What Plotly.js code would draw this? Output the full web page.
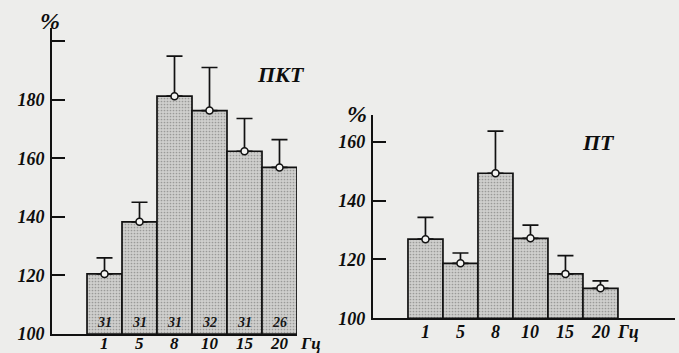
<!DOCTYPE html>
<html>
<head>
<meta charset="utf-8">
<script src="https://cdn.plot.ly/plotly-3.0.1.min.js"></script>
<style>
  html, body { margin: 0; padding: 0; background: #ededeb; }
  #chart { width: 679px; height: 353px; }
</style>
</head>
<body>
<div id="chart"></div>
<script>
// ---- Data ----
const freqs = ['1', '5', '8', '10', '15', '20'];

// ПКТ (left panel)
const pktMean  = [120.5, 138.3, 181.2, 176.3, 162.4, 156.9];
const pktUpper = [126.0, 145.0, 194.9, 191.0, 173.6, 166.4];
const pktN     = ['31', '31', '31', '32', '31', '26'];

// ПТ (right panel)
const ptMean  = [126.9, 118.7, 149.3, 127.2, 115.1, 110.2];
const ptUpper = [134.3, 122.2, 163.6, 131.7, 121.3, 112.7];

const leftTicks  = [100, 120, 140, 160, 180, 200];
const leftLabels = ['100', '120', '140', '160', '180', ''];
const rightTicks  = [100, 120, 140, 160];
const rightLabels = ['100', '120', '140', '160'];

const unitLabel = 'Гц';
const pctLabel = '%';

// ---- Styles ----
const serif = 'Liberation Serif, Times New Roman, serif';
function f(size, color) {
  return { family: serif, size: size, color: color || '#0d0d0d', weight: 'bold', style: 'italic' };
}

function barTrace(y, xa, ya) {
  return {
    type: 'bar', x: freqs.map((_, i) => i), y: y.map(v => v - 100), base: 100,
    xaxis: xa, yaxis: ya, width: 1,
    marker: {
      color: '#c6c6c4',
      line: { color: '#111', width: 1.7 },
      pattern: { shape: '.', fgcolor: '#999997', bgcolor: '#cfcfcd', size: 3, solidity: 0.25 }
    },
    hoverinfo: 'skip', showlegend: false
  };
}
function meanTrace(y, up, xa, ya) {
  return {
    type: 'scatter', mode: 'markers', x: freqs.map((_, i) => i), y: y, xaxis: xa, yaxis: ya,
    marker: { symbol: 'circle', size: 7, color: '#f4f4f2', line: { color: '#111', width: 1.5 } },
    error_y: {
      type: 'data', symmetric: false,
      array: up.map((u, i) => u - y[i]),
      arrayminus: y.map(() => 0),
      color: '#111', thickness: 1.7, width: 8
    },
    hoverinfo: 'skip', showlegend: false, cliponaxis: false
  };
}

const data = [
  barTrace(pktMean, 'x', 'y'),
  meanTrace(pktMean, pktUpper, 'x', 'y'),
  barTrace(ptMean, 'x2', 'y2'),
  meanTrace(ptMean, ptUpper, 'x2', 'y2')
];

const annotations = [];
// sample sizes inside left bars
pktN.forEach((n, i) => annotations.push({
  x: i, y: 104.1, xref: 'x', yref: 'y', text: n, showarrow: false, font: f(14, '#151515')
}));
// x tick labels (frequencies)
freqs.forEach((t, i) => {
  annotations.push({ x: i, y: 0.0283, xref: 'x', yref: 'paper', yanchor: 'middle',
    text: t, showarrow: false, font: f(17) });
  annotations.push({ x: i, y: 0.0595, xref: 'x2', yref: 'paper', yanchor: 'middle',
    text: t, showarrow: false, font: f(18) });
});
annotations.push(
  { x: 0.458, y: 0.0283, xref: 'paper', yref: 'paper', yanchor: 'middle', text: unitLabel, showarrow: false, font: f(17) },
  { x: 0.944, y: 0.0595, xref: 'paper', yref: 'paper', yanchor: 'middle', text: unitLabel, showarrow: false, font: f(18) },
  { x: 0.414, y: 0.788, xref: 'paper', yref: 'paper', yanchor: 'middle', text: 'ПКТ', showarrow: false, font: f(22) },
  { x: 0.909, y: 0.595, xref: 'paper', yref: 'paper', yanchor: 'middle', text: 'ПТ', showarrow: false, font: f(22) },
  { x: 0.056, y: 0.94, xref: 'paper', yref: 'paper', yanchor: 'middle', text: pctLabel, showarrow: false, font: f(24) },
  { x: 0.526, y: 0.677, xref: 'paper', yref: 'paper', yanchor: 'middle', text: pctLabel, showarrow: false, font: f(24) }
);

const xCommon = {
  type: 'linear', showline: true, linecolor: '#111', linewidth: 2,
  ticks: '', showticklabels: false, showgrid: false, zeroline: false, fixedrange: true
};
const yCommon = {
  showline: true, linecolor: '#111', linewidth: 2, ticks: 'inside', ticklen: 13,
  tickwidth: 2, tickcolor: '#111', showgrid: false, zeroline: false,
  tickfont: f(18), fixedrange: true, tickmode: 'array', ticklabelstandoff: 2
};

const layout = {
  width: 679, height: 353,
  margin: { l: 0, r: 0, t: 0, b: 0 },
  paper_bgcolor: '#ededeb', plot_bgcolor: 'rgba(0,0,0,0)',
  bargap: 0, showlegend: false,
  xaxis: Object.assign({}, xCommon, { domain: [0.0766, 0.4374], range: [-1.5, 5.5], anchor: 'y' }),
  yaxis: Object.assign({}, yCommon, { domain: [0.0538, 0.9207], range: [100, 204.5], anchor: 'x',
    tickvals: leftTicks, ticktext: leftLabels }),
  xaxis2: Object.assign({}, xCommon, { domain: [0.5493, 0.9941], range: [-1.5, 7.13], anchor: 'y2' }),
  yaxis2: Object.assign({}, yCommon, { domain: [0.0983, 0.6742], range: [100, 169.1], anchor: 'x2',
    tickvals: rightTicks, ticktext: rightLabels }),
  annotations: annotations
};

Plotly.newPlot('chart', data, layout, { staticPlot: true, displayModeBar: false });
</script>
</body>
</html>
